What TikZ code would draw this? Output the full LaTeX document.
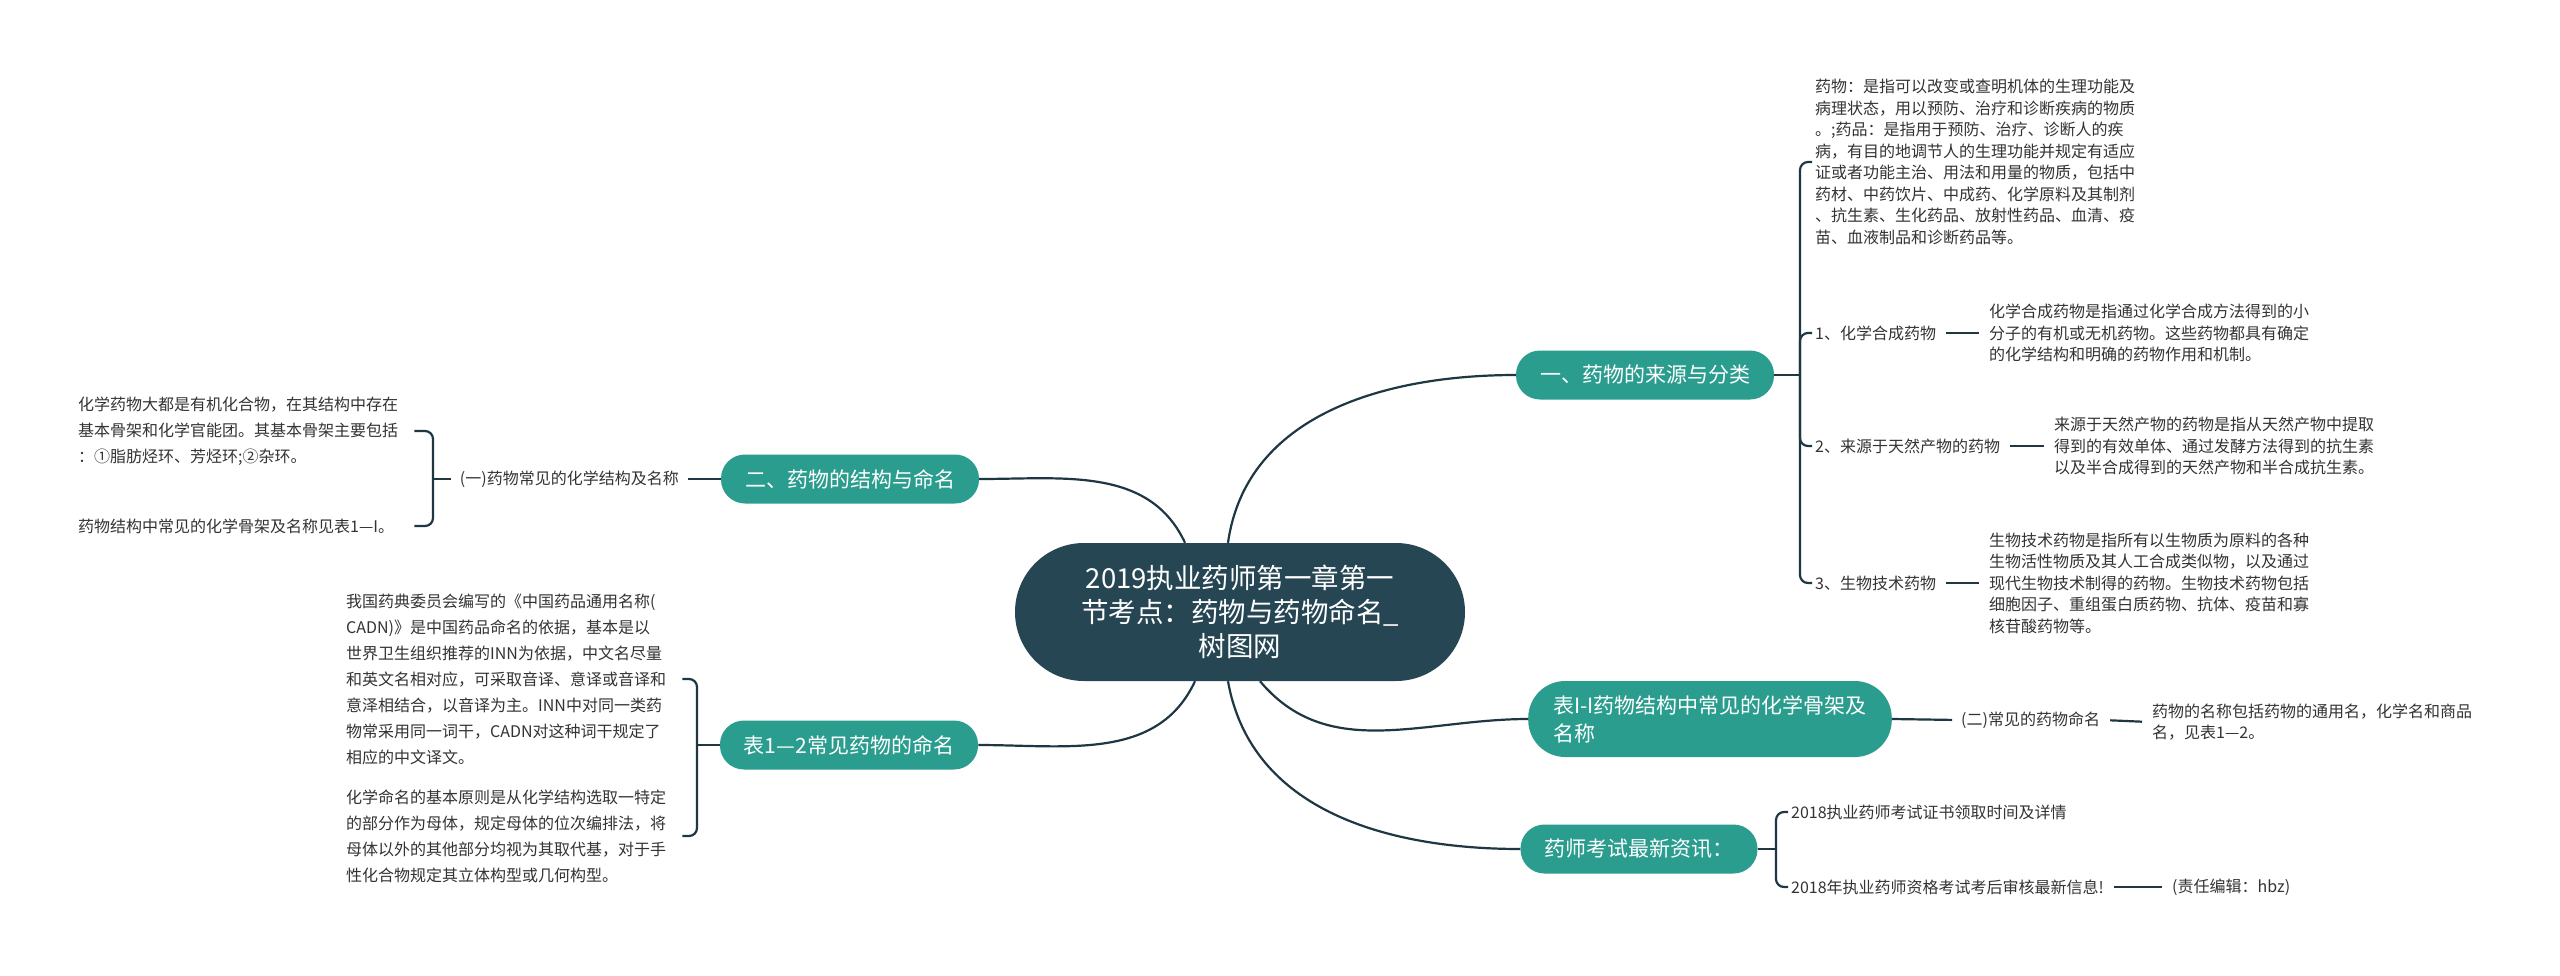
\documentclass[tikz,border=0pt]{standalone}
\usepackage{fontspec}
\setmainfont{Noto Sans CJK SC}
\usetikzlibrary{calc}

\definecolor{rootcol}{RGB}{38,70,83}
\definecolor{topiccol}{RGB}{42,157,143}
\definecolor{linecol}{RGB}{30,55,66}
\definecolor{leafcol}{RGB}{51,51,51}

\tikzset{
  rootbox/.style={rectangle,rounded corners=69pt,fill=rootcol,text=white,
    font=\fontsize{27.5}{34}\selectfont,align=center,
    minimum width=450pt,minimum height=138pt,inner sep=0pt},
  topicbox/.style={rectangle,rounded corners=24pt,fill=topiccol,text=white,
    font=\fontsize{21}{28}\selectfont,minimum height=49pt,inner xsep=24pt},
  leaftext/.style={text=leafcol,font=\fontsize{16}{21.5}\selectfont,
    align=left,inner sep=3pt,anchor=west},
  leftleaf/.style={leaftext,font=\fontsize{16}{26}\selectfont,text width=333pt},
  link/.style={draw=linecol,line width=2.2pt},
  fork/.style={link,rounded corners=8pt},
  stub/.style={link,shorten <=7pt,shorten >=7pt},
}

\begin{document}
\begin{tikzpicture}[x=1pt,y=1pt]
  \useasboundingbox[fill=white] (0,0) rectangle (2560,-975);
  %
  \node[rootbox] (root) at (1240,-612) {2019执业药师第一章第一\\节考点：药物与药物命名\_\\树图网};
  \node[topicbox] (src) at (1645,-375) {一、药物的来源与分类};
  \node[topicbox] (struct) at (850,-479) {二、药物的结构与命名};
  \node[topicbox] (naming) at (849,-745) {表1—2常见药物的命名};
  \node[topicbox,align=left,minimum height=76pt,rounded corners=37pt,inner xsep=25pt] (table) at (1710,-719)
    {表I-I药物结构中常见的化学骨架及\\名称};
  \node[topicbox] (news) at (1639,-849) {药师考试最新资讯：};
  %
  \draw[link] ($(root.north)+(-12,0)$) to[out=82,in=180] (src.west);
  \draw[link] ($(root.north)+(-55,0)$) to[out=115,in=0] (struct.east);
  \draw[link] ($(root.south)+(-45,0)$) to[out=-115,in=0] (naming.east);
  \draw[link] ($(root.south)+(20,0)$) to[out=-50,in=180] (table.west);
  \draw[link] ($(root.south)+(-12,0)$) to[out=-80,in=180] (news.west);
  %
  % sources
  \node[leaftext] (s0) at (1812,-162) {药物：是指可以改变或查明机体的生理功能及\\病理状态，用以预防、治疗和诊断疾病的物质\\。;药品：是指用于预防、治疗、诊断人的疾\\病，有目的地调节人的生理功能并规定有适应\\证或者功能主治、用法和用量的物质，包括中\\药材、中药饮片、中成药、化学原料及其制剂\\、抗生素、生化药品、放射性药品、血清、疫\\苗、血液制品和诊断药品等。};
  \node[leaftext] (s1) at (1812,-333) {1、化学合成药物};
  \node[leaftext] (s1t) at (1986,-333) {化学合成药物是指通过化学合成方法得到的小\\分子的有机或无机药物。这些药物都具有确定\\的化学结构和明确的药物作用和机制。};
  \node[leaftext] (s2) at (1812,-446) {2、来源于天然产物的药物};
  \node[leaftext] (s2t) at (2051,-446) {来源于天然产物的药物是指从天然产物中提取\\得到的有效单体、通过发酵方法得到的抗生素\\以及半合成得到的天然产物和半合成抗生素。};
  \node[leaftext] (s3) at (1812,-583) {3、生物技术药物};
  \node[leaftext] (s3t) at (1986,-583) {生物技术药物是指所有以生物质为原料的各种\\生物活性物质及其人工合成类似物，以及通过\\现代生物技术制得的药物。生物技术药物包括\\细胞因子、重组蛋白质药物、抗体、疫苗和寡\\核苷酸药物等。};
  \coordinate (j1) at (1800,-375);
  \draw[link] (src.east) -- (j1);
  \foreach \n in {s0,s1,s2,s3} \draw[fork] (j1) |- (\n.west);
  \foreach \n in {s1,s2,s3} \draw[stub] (\n.east) -- (\n t.west);
  %
  % structure
  \node[leaftext,anchor=east] (l1) at (682,-479) {(一)药物常见的化学结构及名称};
  \node[leftleaf] (t1) at (75,-431) {化学药物大都是有机化合物，在其结构中存在\\基本骨架和化学官能团。其基本骨架主要包括\\：①脂肪烃环、芳烃环;②杂环。};
  \node[leftleaf] (t2) at (75,-526) {药物结构中常见的化学骨架及名称见表1—I。};
  \coordinate (j2) at (433,-479);
  \draw[link,shorten >=6pt] (struct.west) -- (l1.east);
  \draw[link,shorten <=6pt] (l1.west) -- (j2);
  \draw[fork] (j2) |- (t1.east);
  \draw[fork] (j2) |- (t2.east);
  %
  % naming
  \node[leftleaf] (t3) at (343,-679) {我国药典委员会编写的《中国药品通用名称(\\CADN)》是中国药品命名的依据，基本是以\\世界卫生组织推荐的INN为依据，中文名尽量\\和英文名相对应，可采取音译、意译或音译和\\意泽相结合，以音译为主。INN中对同一类药\\物常采用同一词干，CADN对这种词干规定了\\相应的中文译文。};
  \node[leftleaf] (t4) at (343,-836) {化学命名的基本原则是从化学结构选取一特定\\的部分作为母体，规定母体的位次编排法，将\\母体以外的其他部分均视为其取代基，对于手\\性化合物规定其立体构型或几何构型。};
  \coordinate (j3) at (697,-745);
  \draw[link] (naming.west) -- (j3);
  \draw[fork] (j3) |- (t3.east);
  \draw[fork] (j3) |- (t4.east);
  %
  % table
  \node[leaftext] (l2) at (1958,-720) {(二)常见的药物命名};
  \node[leaftext] (d4) at (2149,-722) {药物的名称包括药物的通用名，化学名和商品\\名，见表1—2。};
  \draw[link,shorten >=6pt] (table.east) -- (l2.west);
  \draw[stub] (l2.east) -- (d4.west);
  %
  % news
  \node[leaftext] (e1) at (1788,-812) {2018执业药师考试证书领取时间及详情};
  \node[leaftext] (e2) at (1788,-887) {2018年执业药师资格考试考后审核最新信息!};
  \node[leaftext] (e3) at (2169,-887) {(责任编辑：hbz)};
  \coordinate (j5) at (1776,-849);
  \draw[link] (news.east) -- (j5);
  \draw[fork] (j5) |- (e1.west);
  \draw[fork] (j5) |- (e2.west);
  \draw[stub] (e2.east) -- (e3.west);
\end{tikzpicture}
\end{document}
